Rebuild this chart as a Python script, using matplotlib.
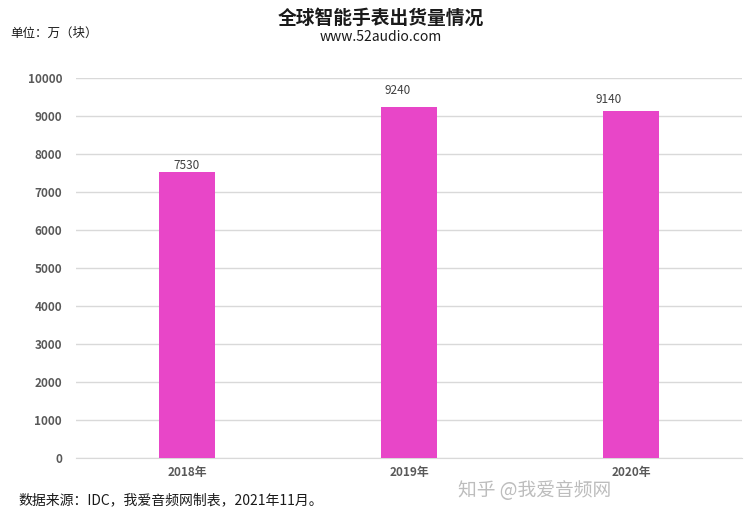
import matplotlib
matplotlib.use("Agg")
import matplotlib.pyplot as plt

plt.rcParams['font.family'] = ['Noto Sans CJK SC', 'DejaVu Sans']

categories = ["2018年", "2019年", "2020年"]
values = [7530, 9240, 9140]
yticks = [0, 1000, 2000, 3000, 4000, 5000, 6000, 7000, 8000, 9000, 10000]

# label offsets in pixels (style)
label_dx = [0, -11, -22]
label_dy = [-2, 8, 3]

bar_color = "#E846C8"
grid_color = "#D9D9D9"
tick_color = "#595959"

fig = plt.figure(figsize=(7.44, 5.2), dpi=100)
ax = fig.add_axes([76/744, 1-458/520, (742-76)/744, (458-78)/520])

x = list(range(len(categories)))
ax.bar(x, values, width=0.25, color=bar_color, zorder=3)
ax.set_xlim(-0.5, 2.5)
ax.set_ylim(0, 10000)
ax.set_yticks(yticks)
ax.set_yticklabels([str(v) for v in yticks])
ax.set_xticks(x)
ax.set_xticklabels(categories)
ax.yaxis.grid(True, color=grid_color, linewidth=1, zorder=0)
for s in ["top", "right", "left"]:
    ax.spines[s].set_visible(False)
ax.spines["bottom"].set_color(grid_color)
ax.tick_params(axis="both", length=0, colors=tick_color, labelsize=8.5)
ax.tick_params(axis="y", pad=10)
ax.tick_params(axis="x", pad=6)
for lbl in ax.get_xticklabels() + ax.get_yticklabels():
    lbl.set_fontweight("bold")

for xi, v, dx, dy in zip(x, values, label_dx, label_dy):
    ax.annotate(str(v), (xi, v), xytext=(dx*0.72, dy*0.72 + 1), textcoords="offset points",
                ha="center", va="bottom", fontsize=8.5, color="#404040")

fig.text(381/744, 1-18/520, "全球智能手表出货量情况", ha="center", va="center",
         fontsize=13.5, fontweight="bold", color="#1a1a1a")
fig.text(381/744, 1-37/520, "www.52audio.com", ha="center", va="center",
         fontsize=10, color="#1a1a1a")
fig.text(10/744, 1-33/520, "单位：万（块）", ha="left", va="center", fontsize=9, color="#1a1a1a")
fig.text(18/744, 1-500/520, "数据来源：IDC，我爱音频网制表，2021年11月。", ha="left", va="center",
         fontsize=10, color="#1a1a1a")
fig.text(535/744, 1-490/520, "知乎 @我爱音频网", ha="center", va="center",
         fontsize=13.5, color="#BDBDBD")

fig.savefig("out.png", dpi=100)
